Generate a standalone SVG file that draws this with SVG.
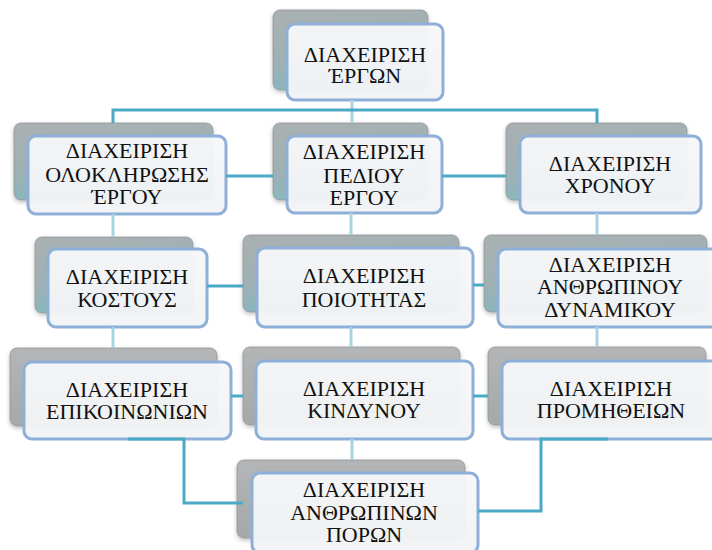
<svg xmlns="http://www.w3.org/2000/svg" width="712" height="550" viewBox="0 0 712 550">
<defs>
<linearGradient id="gTeal" x1="0" y1="0" x2="0.3" y2="1">
<stop offset="0" stop-color="#aab0b2"/>
<stop offset="0.6" stop-color="#9eb1b4"/>
<stop offset="1" stop-color="#86b7c0"/>
</linearGradient>
<linearGradient id="gGray" x1="0" y1="0" x2="0" y2="1">
<stop offset="0" stop-color="#b3b5b6"/>
<stop offset="1" stop-color="#a5a9aa"/>
</linearGradient>
<linearGradient id="gFront" x1="0" y1="0" x2="0" y2="1">
<stop offset="0" stop-color="#f6f7f9"/>
<stop offset="1" stop-color="#f1f3f5"/>
</linearGradient>
<filter id="sh" x="-10%" y="-10%" width="120%" height="130%">
<feDropShadow dx="0" dy="2" stdDeviation="2" flood-color="#000" flood-opacity="0.25"/>
</filter>
</defs>
<style>
.back{stroke:#8f9597;stroke-width:0.8;filter:url(#sh)}
.t{fill:url(#gTeal)}
.g{fill:url(#gGray)}
.front{fill:url(#gFront);fill-opacity:0.96;stroke:#8eafd8;stroke-width:3}
.lbl{font-family:"Liberation Serif","Times New Roman",serif;font-size:22px;fill:#111;text-anchor:middle}
.dk{stroke:#4aaac5;stroke-width:3;fill:none}
.lt{stroke:#a8d3e0;stroke-width:3;fill:none}
</style>
<rect width="712" height="550" fill="#fff"/>

<g id="n-top">
<rect class="back t" x="273" y="10" width="155" height="80" rx="7"/>
<rect class="front" x="287" y="24" width="156" height="76" rx="8"/>
<text class="lbl" x="365" y="62">ΔΙΑΧΕΙΡΙΣΗ</text>
<text class="lbl" x="365" y="83">ΈΡΓΩΝ</text>
</g>

<g id="n-olok">
<rect class="back t" x="14" y="123" width="199" height="77" rx="7"/>
<rect class="front" x="28" y="136" width="198" height="78" rx="8"/>
<text class="lbl" x="127" y="158">ΔΙΑΧΕΙΡΙΣΗ</text>
<text class="lbl" x="127" y="182">ΟΛΟΚΛΗΡΩΣΗΣ</text>
<text class="lbl" x="127" y="204">ΈΡΓΟΥ</text>
</g>

<g id="n-pedio">
<rect class="back t" x="273" y="123" width="155" height="77" rx="7"/>
<rect class="front" x="287" y="136" width="155" height="77" rx="8"/>
<text class="lbl" x="364" y="159">ΔΙΑΧΕΙΡΙΣΗ</text>
<text class="lbl" x="364" y="183">ΠΕΔΙΟΥ</text>
<text class="lbl" x="364" y="205">ΕΡΓΟΥ</text>
</g>

<g id="n-xronou">
<rect class="back t" x="506" y="123" width="181" height="77" rx="7"/>
<rect class="front" x="520" y="136" width="181" height="77" rx="8"/>
<text class="lbl" x="610" y="171">ΔΙΑΧΕΙΡΙΣΗ</text>
<text class="lbl" x="610" y="193">ΧΡΟΝΟΥ</text>
</g>

<g id="n-kostous">
<rect class="back t" x="35" y="237" width="158" height="76" rx="7"/>
<rect class="front" x="48" y="249" width="159" height="78" rx="8"/>
<text class="lbl" x="127" y="284">ΔΙΑΧΕΙΡΙΣΗ</text>
<text class="lbl" x="127" y="307">ΚΟΣΤΟΥΣ</text>
</g>

<g id="n-poiotitas">
<rect class="back t" x="243" y="235" width="216" height="77" rx="7"/>
<rect class="front" x="257" y="248" width="216" height="79" rx="8"/>
<text class="lbl" x="364" y="283">ΔΙΑΧΕΙΡΙΣΗ</text>
<text class="lbl" x="364" y="307">ΠΟΙΟΤΗΤΑΣ</text>
</g>

<g id="n-anthropinou">
<rect class="back t" x="484" y="235" width="223" height="77" rx="7"/>
<rect class="front" x="498" y="249" width="224" height="78" rx="8"/>
<text class="lbl" x="610" y="272">ΔΙΑΧΕΙΡΙΣΗ</text>
<text class="lbl" x="610" y="294">ΑΝΘΡΩΠΙΝΟΥ</text>
<text class="lbl" x="610" y="317">ΔΥΝΑΜΙΚΟΥ</text>
</g>

<g id="n-epikoinonion">
<rect class="back g" x="10" y="348" width="207" height="78" rx="7"/>
<rect class="front" x="24" y="362" width="207" height="77" rx="8"/>
<text class="lbl" x="127" y="397">ΔΙΑΧΕΙΡΙΣΗ</text>
<text class="lbl" x="127" y="419">ΕΠΙΚΟΙΝΩΝΙΩΝ</text>
</g>

<g id="n-kindynou">
<rect class="back g" x="243" y="347" width="217" height="78" rx="7"/>
<rect class="front" x="256" y="361" width="217" height="78" rx="8"/>
<text class="lbl" x="364" y="396">ΔΙΑΧΕΙΡΙΣΗ</text>
<text class="lbl" x="364" y="418">ΚΙΝΔΥΝΟΥ</text>
</g>

<g id="n-promitheion">
<rect class="back g" x="488" y="347" width="218" height="78" rx="7"/>
<rect class="front" x="502" y="361" width="218" height="78" rx="8"/>
<text class="lbl" x="611" y="396">ΔΙΑΧΕΙΡΙΣΗ</text>
<text class="lbl" x="611" y="418">ΠΡΟΜΗΘΕΙΩΝ</text>
</g>

<g id="n-poron">
<rect class="back g" x="237" y="460" width="228" height="78" rx="7"/>
<rect class="front" x="252" y="473" width="226" height="80" rx="8"/>
<text class="lbl" x="364" y="497">ΔΙΑΧΕΙΡΙΣΗ</text>
<text class="lbl" x="364" y="520">ΑΝΘΡΩΠΙΝΩΝ</text>
<text class="lbl" x="364" y="542">ΠΟΡΩΝ</text>
</g>

<g id="connectors">
<path class="lt" d="M352 100 V123"/>
<path class="dk" d="M113 123 V110 H597 V123"/>
<path class="dk" d="M226 176 H273"/>
<path class="dk" d="M442 176 H506"/>
<path class="lt" d="M113 214 V237"/>
<path class="lt" d="M351 213 V235"/>
<path class="lt" d="M597 213 V235"/>
<path class="dk" d="M207 286 H243"/>
<path class="dk" d="M473 285 H484"/>
<path class="lt" d="M113 327 V348"/>
<path class="lt" d="M351 327 V347"/>
<path class="lt" d="M597 327 V347"/>
<path class="dk" d="M231 396 H243"/>
<path class="dk" d="M473 396 H488"/>
<path class="lt" d="M352 439 V460"/>
<path class="dk" d="M128 439 H184 V503 H243"/>
<path class="dk" d="M608 439 H541 V511 H478"/>
</g>
</svg>
